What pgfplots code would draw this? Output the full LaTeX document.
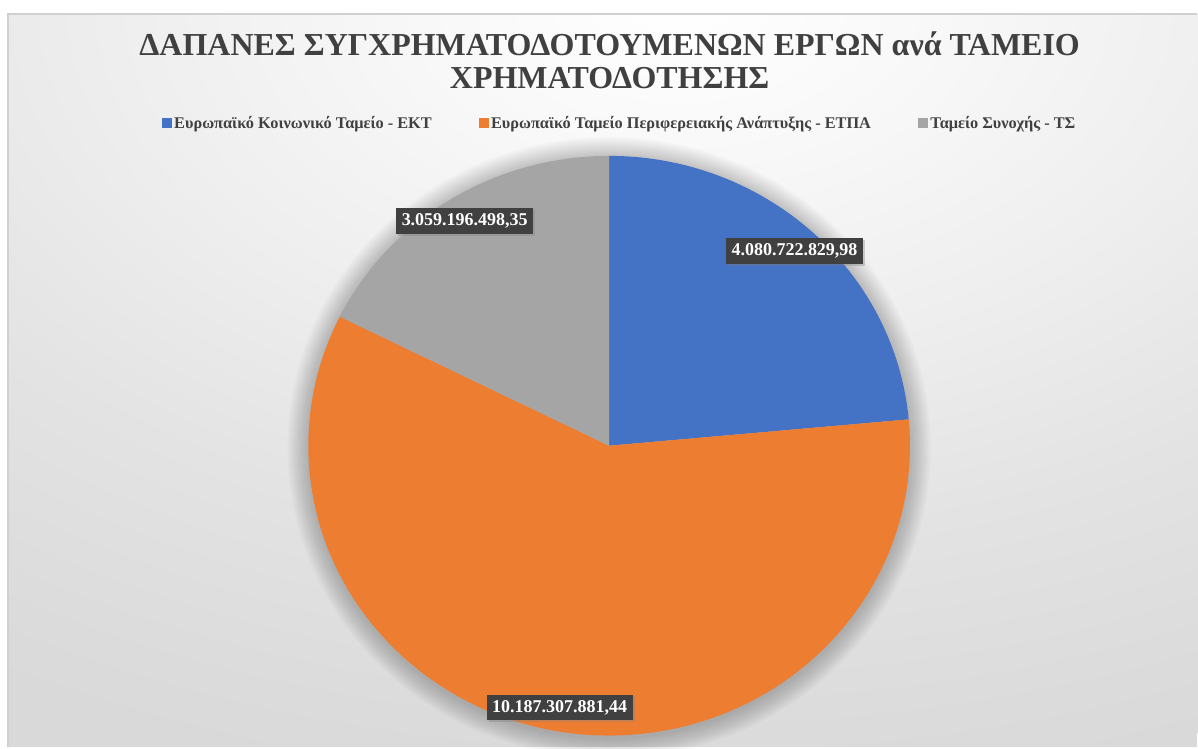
\documentclass[border=0pt]{standalone}
\usepackage{fontspec}
\setmainfont{Liberation Serif}
\usepackage{pgfplots}
\usepackage{pgfplotstable}
\pgfplotsset{compat=1.18}
\usetikzlibrary{shadows}
\definecolor{cEKT}{HTML}{4472C4}
\definecolor{cETPA}{HTML}{ED7D31}
\definecolor{cTS}{HTML}{A5A5A5}
\definecolor{txt}{HTML}{404040}
\definecolor{lbl}{HTML}{404040}
\definecolor{bgA}{HTML}{F8F8F8}
\definecolor{bgB}{HTML}{EEEEEE}
\definecolor{bgC}{HTML}{E3E3E3}
\definecolor{bgD}{HTML}{DBDBDB}
\definecolor{bgE}{HTML}{D7D7D7}
\definecolor{bgdark}{HTML}{D9D9D9}
\definecolor{framec}{HTML}{D0D0D0}
\pgfdeclareradialshading{bgrad}{\pgfpoint{0bp}{0bp}}{color(0bp)=(white); color(5bp)=(bgA); color(11bp)=(bgB); color(17bp)=(bgC); color(23bp)=(bgD); color(27bp)=(bgE); color(50bp)=(bgE)}

\pgfplotstableread{
fund value
EKT 4080722829.98
ETPA 10187307881.44
TS 3059196498.35
}\piedata
\pgfplotstablegetelem{0}{value}\of\piedata \edef\vA{\pgfplotsretval}
\pgfplotstablegetelem{1}{value}\of\piedata \edef\vB{\pgfplotsretval}
\pgfplotstablegetelem{2}{value}\of\piedata \edef\vC{\pgfplotsretval}
\edef\tot{\fpeval{\vA+\vB+\vC}}
\edef\angA{\fpeval{90-360*\vA/\tot}}
\edef\angB{\fpeval{\angA-360*\vB/\tot}}

\begin{document}
\begin{tikzpicture}
\begin{axis}[width=1198pt,height=747pt,scale only axis,
  xmin=0,xmax=1198,ymin=0,ymax=747,hide axis,clip=false,
  legend columns=3,
  legend style={at={(axis cs:620,624)},anchor=center,draw=none,fill=none,
    font=\fontsize{16.3}{18}\selectfont\bfseries,text=txt,
    /tikz/every even column/.append style={column sep=45pt},
    /tikz/every odd column/.append style={column sep=1pt}},
  legend image code/.code={\fill[#1] (0pt,-4.5pt) rectangle (9pt,4.5pt);}]
\path (axis cs:0,0) rectangle (axis cs:1198,747);
% background
\fill[white] (axis cs:0,0) rectangle (axis cs:1198,747);
\begin{scope}
\clip (axis cs:8,0) rectangle (axis cs:1198,733);
\fill[bgdark,overlay] (axis cs:8,0) rectangle (axis cs:1198,733);
\shade[shading=bgrad,overlay] (axis cs:680,747) ellipse [x radius=1300pt, y radius=800pt];
\end{scope}
\draw[framec,line width=1.5pt] (axis cs:8,0) -- (axis cs:8,733) -- (axis cs:1198,733);
% soft shadow
\pgfplotsinvokeforeach{1,...,14}{
  \fill[black,opacity=0.014,overlay] (axis cs:609.5,299) ellipse [x radius={301pt+1.5pt*#1}, y radius={290pt+1.5pt*#1}];
}
% pie
\fill[cEKT] (axis cs:609.5,301) -- ++(90:301pt and 290pt) arc[start angle=90, end angle=\angA, x radius=301pt, y radius=290pt] -- cycle;
\fill[cETPA] (axis cs:609.5,301) -- ++(\angA:301pt and 290pt) arc[start angle=\angA, end angle=\angB, x radius=301pt, y radius=290pt] -- cycle;
\fill[cTS] (axis cs:609.5,301) -- ++(\angB:301pt and 290pt) arc[start angle=\angB, end angle=-270, x radius=301pt, y radius=290pt] -- cycle;
% title
\node[font=\fontsize{32}{33}\selectfont\bfseries,text=txt,align=center] at (axis cs:610,687)
  {ΔΑΠΑΝΕΣ ΣΥΓΧΡΗΜΑΤΟΔΟΤΟΥΜΕΝΩΝ ΕΡΓΩΝ ανά ΤΑΜΕΙΟ\\ΧΡΗΜΑΤΟΔΟΤΗΣΗΣ};
% data labels
\tikzset{dlab/.style={fill=lbl,text=white,font=\fontsize{18}{20}\selectfont\bfseries,
  inner xsep=5.5pt,inner ysep=5pt,text height=12.5pt,text depth=3pt,
  drop shadow={shadow xshift=2pt,shadow yshift=-2pt,opacity=0.35}}}
\node[dlab] at (axis cs:795,496) {4.080.722.829,98};
\node[dlab] at (axis cs:465,526) {3.059.196.498,35};
\node[dlab] at (axis cs:560,39) {10.187.307.881,44};
\addlegendimage{cEKT}
\addlegendentry{Ευρωπαϊκό Κοινωνικό Ταμείο - ΕΚΤ}
\addlegendimage{cETPA}
\addlegendentry{Ευρωπαϊκό Ταμείο Περιφερειακής Ανάπτυξης - ΕΤΠΑ}
\addlegendimage{cTS}
\addlegendentry{Ταμείο Συνοχής - ΤΣ}
\end{axis}
\end{tikzpicture}
\end{document}
